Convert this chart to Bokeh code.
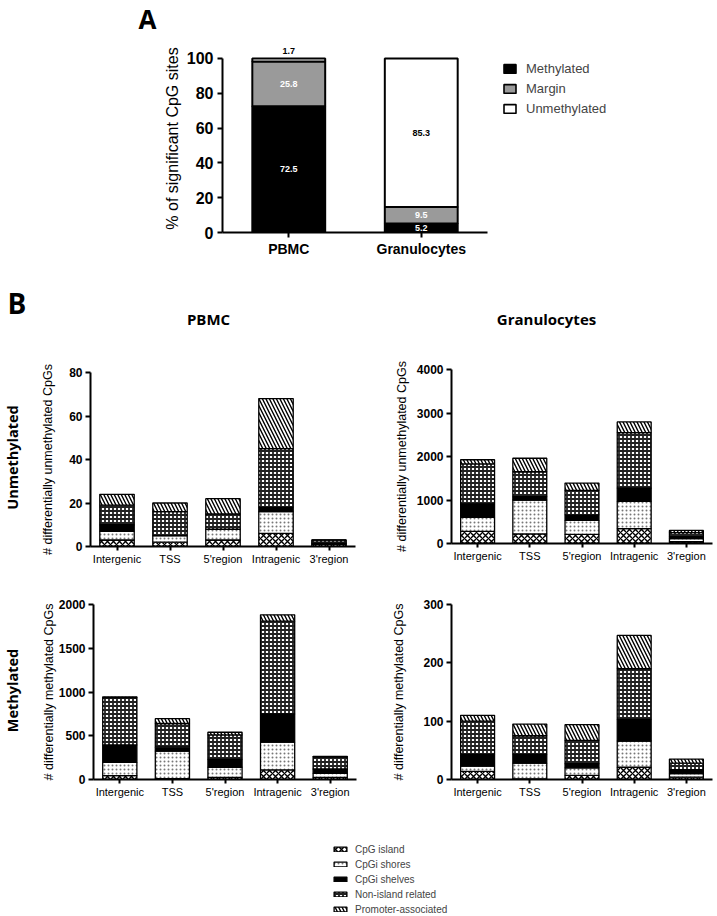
import numpy as np
from bokeh.plotting import figure
from bokeh.models import (ColumnDataSource, Range1d, FactorRange, FixedTicker,
                          Label, Legend, LegendItem)
from bokeh.layouts import column, row
from bokeh.embed import file_html
from bokeh.resources import INLINE
from bokeh.core.properties import value

# ---------------- data: panel A ----------------
groups_a = ["PBMC", "Granulocytes"]
status_a = ["Methylated", "Margin", "Unmethylated"]
methylated_pct = [72.5, 5.2]
margin_pct = [25.8, 9.5]
unmethylated_pct = [1.7, 85.3]
ticks_a = [0, 20, 40, 60, 80, 100]

# ---------------- data: panel B ----------------
regions = ["Intergenic", "TSS", "5'region", "Intragenic", "3'region"]
features = ["CpG island", "CpGi shores", "CpGi shelves",
            "Non-island related", "Promoter-associated"]

# rows follow `features`; columns follow `regions`
pbmc_unmeth = [
    [3, 2, 3, 6, 1],
    [4, 3, 5, 10, 0.3],
    [3, 0, 0, 2, 0.7],
    [9, 11, 7, 27, 1],
    [5, 4, 7, 23, 0],
]
gran_unmeth = [
    [280, 220, 210, 340, 40],
    [320, 780, 320, 630, 70],
    [310, 75, 130, 305, 50],
    [920, 575, 560, 1275, 90],
    [95, 310, 170, 245, 50],
]
pbmc_meth = [
    [45, 10, 25, 110, 25],
    [150, 315, 115, 317, 45],
    [200, 45, 90, 323, 50],
    [540, 270, 280, 1060, 140],
    [10, 55, 30, 72, 5],
]
gran_meth = [
    [14, 1, 7, 21, 4],
    [9, 27, 13, 45, 6],
    [20, 15, 7, 37, 7],
    [57, 32, 40, 87, 11],
    [10, 20, 27, 57, 7],
]
ticks_pbmc_unmeth = [0, 20, 40, 60, 80]
ticks_gran_unmeth = [0, 1000, 2000, 3000, 4000]
ticks_pbmc_meth = [0, 500, 1000, 1500, 2000]
ticks_gran_meth = [0, 100, 200, 300]

# ---------------- styles ----------------
TICK_FONT = "Liberation Sans"
HEAD_FONT = "Open Sans"
status_colors = ["black", "#9a9a9a", "white"]
feature_styles = [
    dict(fill_color="white", hatch_pattern="diagonal_cross", hatch_scale=6,
         hatch_weight=1.4, hatch_color="black"),
    dict(fill_color="white", hatch_pattern="dot", hatch_scale=4,
         hatch_weight=0.8, hatch_color="#777777"),
    dict(fill_color="black"),
    dict(fill_color="white", hatch_pattern="cross", hatch_scale=4,
         hatch_weight=1.8, hatch_color="#222222"),
    dict(fill_color="white", hatch_pattern="left_diagonal_line", hatch_scale=7,
         hatch_weight=1.4, hatch_color="black"),
]


def clean(p):
    p.outline_line_color = None
    p.xgrid.grid_line_color = None
    p.ygrid.grid_line_color = None


def text_fig(width, height):
    p = figure(width=width, height=height, x_range=Range1d(0, width),
               y_range=Range1d(0, height), output_backend="svg",
               toolbar_location=None, min_border=0, frame_align=False,
               x_axis_location=None, y_axis_location=None)
    clean(p)
    return p


def add_text(p, x, y, text, size, angle=0.0, align="center"):
    p.add_layout(Label(x=x, y=y, text=text, angle=angle, text_align=align,
                       text_baseline="middle", text_font=HEAD_FONT,
                       text_font_size=size, text_font_style="bold",
                       text_color="black"))


def base_fig(width, height, left, right, top, bottom, factors, y_max, ticks):
    p = figure(width=width, height=height, x_range=FactorRange(factors=factors),
               y_range=Range1d(0, y_max), output_backend="svg",
               toolbar_location=None, min_border_left=left,
               min_border_right=right, min_border_top=top,
               min_border_bottom=bottom, frame_align=False)
    clean(p)
    for ax in (p.xaxis[0], p.yaxis[0]):
        ax.axis_line_width = 2
        ax.axis_line_color = "black"
        ax.major_tick_line_width = 2
        ax.major_tick_line_color = "black"
        ax.major_tick_in = 0
        ax.major_tick_out = 5
        ax.minor_tick_line_color = None
        ax.major_label_text_color = "black"
        ax.major_label_text_font = TICK_FONT
        ax.axis_label_text_font = TICK_FONT
        ax.axis_label_text_font_style = "normal"
        ax.axis_label_text_color = "black"
    p.yaxis[0].ticker = FixedTicker(ticks=ticks)
    p.yaxis[0].bounds = (0, ticks[-1])
    p.yaxis[0].major_label_text_font_style = "bold"
    return p


def stack_bars(p, data, width=0.65):
    bottom = np.zeros(len(regions))
    for vals, style in zip(data, feature_styles):
        top = bottom + np.asarray(vals, dtype=float)
        src = ColumnDataSource(dict(x=regions, bottom=bottom.copy(), top=top.copy()))
        p.vbar(x="x", bottom="bottom", top="top", width=width, source=src,
               line_color="black", line_width=1.3, **style)
        bottom = top


def panel_b(width, height, left, right, top, bottom, data, y_max, ticks,
            ylabel, label_standoff):
    p = base_fig(width, height, left, right, top, bottom, regions, y_max, ticks)
    p.yaxis[0].major_label_text_font_size = "12px"
    p.yaxis[0].major_label_standoff = 3
    p.yaxis[0].axis_label = ylabel
    p.yaxis[0].axis_label_text_font_size = "12.5px"
    p.yaxis[0].axis_label_standoff = label_standoff
    p.xaxis[0].major_label_text_font_size = "11px"
    p.xaxis[0].major_label_standoff = 2
    p.xaxis[0].major_tick_out = 4
    stack_bars(p, data)
    return p


def legend_fig(width, height, names, styles, line_width, loc, **legend_kw):
    """Legend-only figure: each swatch renderer holds a single empty (NaN) bar."""
    p = text_fig(width, height)
    rends = []
    for st in styles:
        rends.append(p.vbar(x="x", top="top", width=0.5,
                            source=ColumnDataSource(dict(x=[np.nan], top=[np.nan])),
                            line_color="black", line_width=line_width, **st))
    leg = Legend(items=[LegendItem(label=n, renderers=[r]) for n, r in zip(names, rends)],
                 location=loc, border_line_color=None, background_fill_alpha=0,
                 padding=0, margin=0, label_text_font=TICK_FONT, **legend_kw)
    p.add_layout(leg, "center")
    return p


# ---------------- panel A ----------------
figAhead = text_fig(717, 44)
add_text(figAhead, 147, 26, "A", "26px")

figA = base_fig(495, 216, 222, 8, 0, 28, groups_a, 108, ticks_a)
figA.yaxis[0].major_label_text_font_size = "16px"
figA.yaxis[0].major_label_standoff = 4
figA.yaxis[0].axis_label = "% of significant CpG sites"
figA.yaxis[0].axis_label_text_font_size = "16px"
figA.yaxis[0].axis_label_standoff = 3
figA.xaxis[0].major_label_text_font_size = "14px"
figA.xaxis[0].major_label_text_font_style = "bold"
figA.xaxis[0].major_label_standoff = 3

bottom_a = np.zeros(len(groups_a))
lab_x, lab_y, lab_t, lab_c, lab_off = [], [], [], [], []
for name, vals, color in zip(status_a, [methylated_pct, margin_pct, unmethylated_pct],
                             status_colors):
    top_a = bottom_a + np.asarray(vals, dtype=float)
    src = ColumnDataSource(dict(x=groups_a, bottom=bottom_a.copy(), top=top_a.copy()))
    figA.vbar(x="x", bottom="bottom", top="top", width=0.55, source=src,
              fill_color=color, line_color="black", line_width=2)
    for g, b, v in zip(groups_a, bottom_a, vals):
        lab_x.append(g)
        lab_t.append(f"{v:.1f}")
        if v >= 4:
            lab_y.append(b + v / 2.0)
            lab_off.append(0)
            lab_c.append("black" if color == "white" else "white")
        else:
            lab_y.append(b + v)
            lab_off.append(-7)
            lab_c.append("black")
    bottom_a = top_a

figA.text(x="x", y="y", text="t", text_color="c", y_offset="off",
          source=ColumnDataSource(dict(x=lab_x, y=lab_y, t=lab_t, c=lab_c, off=lab_off)),
          text_align="center", text_baseline="middle", text_font=value(TICK_FONT),
          text_font_size="9px", text_font_style="bold")

figAleg = legend_fig(222, 216, status_a, [dict(fill_color=c) for c in status_colors],
                     1.6, (7, 144), spacing=5, glyph_width=15, glyph_height=11,
                     label_height=15, label_standoff=9, label_text_font_size="13px")

# ---------------- panel B ----------------
figBhead = text_fig(717, 80)
add_text(figBhead, 7, 38, "B", "28px", align="left")
add_text(figBhead, 208, 22, "PBMC", "15px")
add_text(figBhead, 546, 22, "Granulocytes", "15px")

figLabU = text_fig(38, 235)
add_text(figLabU, 12, 118, "Unmethylated", "14.5px", angle=np.pi / 2)
figLabM = text_fig(38, 230)
add_text(figLabM, 12, 115, "Methylated", "14.5px", angle=np.pi / 2)

figPU = panel_b(342, 235, 52, 25, 32, 29, pbmc_unmeth, 80, ticks_pbmc_unmeth,
                "# differentially unmethylated CpGs", 11)
figGU = panel_b(337, 235, 71, 5, 29, 32, gran_unmeth, 4000, ticks_gran_unmeth,
                "# differentially unmethylated CpGs", 5)
figPM = panel_b(342, 230, 53, 24, 29, 26, pbmc_meth, 2000, ticks_pbmc_meth,
                "# differentially methylated CpGs", 0)
figGM = panel_b(337, 230, 71, 5, 29, 26, gran_meth, 300, ticks_gran_meth,
                "# differentially methylated CpGs", 14)

figBleg = legend_fig(717, 111, features, feature_styles, 1.3, (332, 1),
                     spacing=3, glyph_width=16, glyph_height=6, label_height=12,
                     label_standoff=7, label_text_font_size="10px")

layout = column(figAhead,
                row(figA, figAleg),
                figBhead,
                row(figLabU, figPU, figGU),
                row(figLabM, figPM, figGM),
                figBleg)
open("out.html", "w").write(file_html(layout, INLINE))
